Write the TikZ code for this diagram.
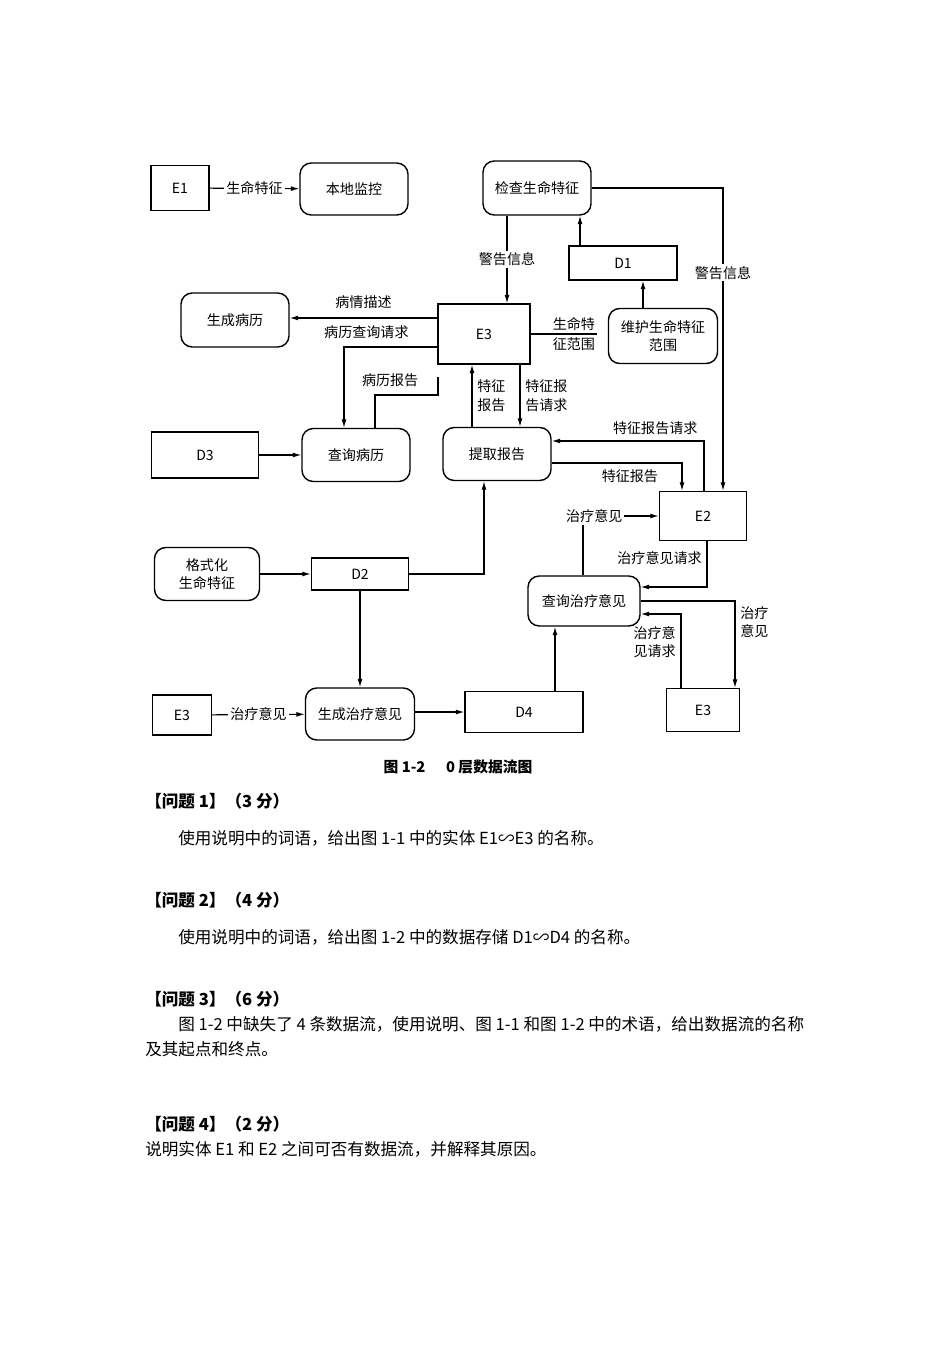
\documentclass[tikz,border=0pt]{standalone}
\usepackage{fontspec}
\newfontfamily\cjk{Noto Sans CJK SC}
\usetikzlibrary{arrows.meta}

\begin{document}
\begin{tikzpicture}[x=0.025cm, y=-0.025cm, font=\cjk\fontsize{10}{13}\selectfont,
	ent/.style={draw, line width=1pt, inner sep=0pt},
	proc/.style={draw, line width=1pt, rounded corners=8pt, inner sep=0pt, align=center},
	flow/.style={line width=0.8pt, -{Latex[length=6pt,width=3.5pt]}},
	plain/.style={line width=0.8pt},
	lbl/.style={fill=white, inner sep=1.5pt, align=center},
	txt/.style={anchor=west, inner sep=0pt, font=\cjk\fontsize{11.8}{14}\selectfont}]
	\useasboundingbox (0,0) rectangle (950,1345);

	\node[ent, minimum width=1.45cm, minimum height=1.125cm] (e1) at (180,188) {E1};
	\node[proc, minimum width=2.7cm, minimum height=1.3cm] (bdjk) at (354,189) {本地监控};
	\node[proc, minimum width=2.7cm, minimum height=1.35cm] (jcsm) at (537,188) {检查生命特征};
	\node[ent, minimum width=2.7cm, minimum height=0.85cm] (d1) at (623,263) {D1};
	\node[proc, minimum width=2.725cm, minimum height=1.375cm] (whsm) at (663,336) {维护生命特征\\范围};
	\node[ent, minimum width=2.3cm, minimum height=1.5cm] (e3) at (484,334) {E3};
	\node[proc, minimum width=2.7cm, minimum height=1.35cm] (scbl) at (235,320) {生成病历};
	\node[ent, minimum width=2.675cm, minimum height=1.15cm] (d3) at (205,455) {D3};
	\node[proc, minimum width=2.7cm, minimum height=1.325cm] (cxbl) at (356,455) {查询病历};
	\node[proc, minimum width=2.7cm, minimum height=1.325cm] (tqbg) at (497,454) {提取报告};
	\node[ent, minimum width=2.175cm, minimum height=1.225cm] (e2) at (703,516) {E2};
	\node[proc, minimum width=2.625cm, minimum height=1.325cm] (gshsm) at (207,574) {格式化\\生命特征};
	\node[ent, minimum width=2.425cm, minimum height=0.8cm] (d2) at (360,574) {D2};
	\node[proc, minimum width=2.8cm, minimum height=1.25cm] (cxzl) at (584,601) {查询治疗意见};
	\node[ent, minimum width=1.475cm, minimum height=1cm] (e3c) at (182,715) {E3};
	\node[proc, minimum width=2.725cm, minimum height=1.3cm] (sczl) at (360,714) {生成治疗意见};
	\node[ent, minimum width=2.95cm, minimum height=1.025cm] (d4) at (524,712) {D4};
	\node[ent, minimum width=1.825cm, minimum height=1.075cm] (e3b) at (703,710) {E3};
	\coordinate (smfw) at (597,334);
	\coordinate (blbg) at (438,377);

	% top row
	\draw[flow] (e1) -- node[lbl]{生命特征} (bdjk);
	\draw[flow] (507,0 |- jcsm.south) -- node[lbl]{警告信息} (507,0 |- e3.north);
	\draw[flow] (580,0 |- d1.north) -- (580,0 |- jcsm.south);
	\draw[flow] (643,0 |- whsm.north) -- (643,0 |- d1.south);
	\draw[flow] (jcsm.east) -| node[lbl, pos=0.64]{警告信息} (723,0 |- e2.north);
	% around E3
	\draw[plain] (e3.east) -- (smfw) node[anchor=east, align=center, inner sep=1pt, font=\cjk\fontsize{10}{14}\selectfont]{生命特\\征范围};
	\draw[flow] (e3.west |- 0,318) -- node[above=3pt]{病情描述} (scbl.east |- 0,318);
	\draw[flow] (e3.west |- 0,347) -| node[pos=0.38, above=2pt]{病历查询请求} (344,0 |- cxbl.north);
	\draw[plain] (375,0 |- cxbl.north) |- node[pos=0.62, above=2pt]{病历报告} (blbg |- 0,395) -- (blbg);
	\draw[flow] (d3) -- (cxbl);
	\draw[flow] (472,0 |- tqbg.north) -- node[right, align=center]{特征\\报告} (472,0 |- e3.south);
	\draw[flow] (520,0 |- e3.south) -- node[right, align=center]{特征报\\告请求} (520,0 |- tqbg.north);
	% around E2
	\draw[flow] (704,0 |- e2.north) |- node[pos=0.66, above=1pt]{特征报告请求} (tqbg.east |- 0,441);
	\draw[flow] (tqbg.east |- 0,463) -| node[pos=0.3, below=1pt]{特征报告} (682,0 |- e2.north);
	\draw[flow] (583,0 |- cxzl.north) |- node[lbl, pos=0.5, xshift=8pt]{治疗意见} (e2.west);
	\draw[flow] (707,0 |- e2.south) |- node[pos=0.18, left]{治疗意见请求} (cxzl.east |- 0,587);
	% around 查询治疗意见
	\draw[flow] (cxzl.east |- 0,601) -| node[pos=0.62, right, align=center]{治疗\\意见} (735,0 |- e3b.north);
	\draw[flow] (681,0 |- e3b.north) |- node[pos=0.31, left, align=center]{治疗意\\见请求} (cxzl.east |- 0,614);
	\draw[flow] (555,0 |- d4.north) -- (555,0 |- cxzl.south);
	% bottom rows
	\draw[flow] (gshsm) -- (d2);
	\draw[flow] (d2.east) -| (484,0 |- tqbg.south);
	\draw[flow] (d2.south) -- (sczl.north);
	\draw[flow] (e3c) -- node[lbl]{治疗意见} (sczl);
	\draw[flow] (sczl.east |- 0,712) -- (d4.west |- 0,712);

	\node[font=\cjk\bfseries\fontsize{10.5}{13}\selectfont] (cap) at (458,767) {图 1-2\hspace{1.4em}0 层数据流图};

	% questions
	\node[txt] (q1) at (145,801) {\bfseries 【问题 1】（3 分）};
	\node[txt] (t1) at (178,838) {使用说明中的词语，给出图 1-1 中的实体 E1∽E3 的名称。};
	\node[txt] (q2) at (145,900) {\bfseries 【问题 2】（4 分）};
	\node[txt] (t2) at (178,937) {使用说明中的词语，给出图 1-2 中的数据存储 D1∽D4 的名称。};
	\node[txt] (q3) at (145,999) {\bfseries 【问题 3】（6 分）};
	\node[txt] (t3) at (178,1024) {图 1-2 中缺失了 4 条数据流，使用说明、图 1-1 和图 1-2 中的术语，给出数据流的名称};
	\node[txt] (t3b) at (145,1049) {及其起点和终点。};
	\node[txt] (q4) at (145,1124) {\bfseries 【问题 4】（2 分）};
	\node[txt] (t4) at (145,1149) {说明实体 E1 和 E2 之间可否有数据流，并解释其原因。};
\end{tikzpicture}
\end{document}
